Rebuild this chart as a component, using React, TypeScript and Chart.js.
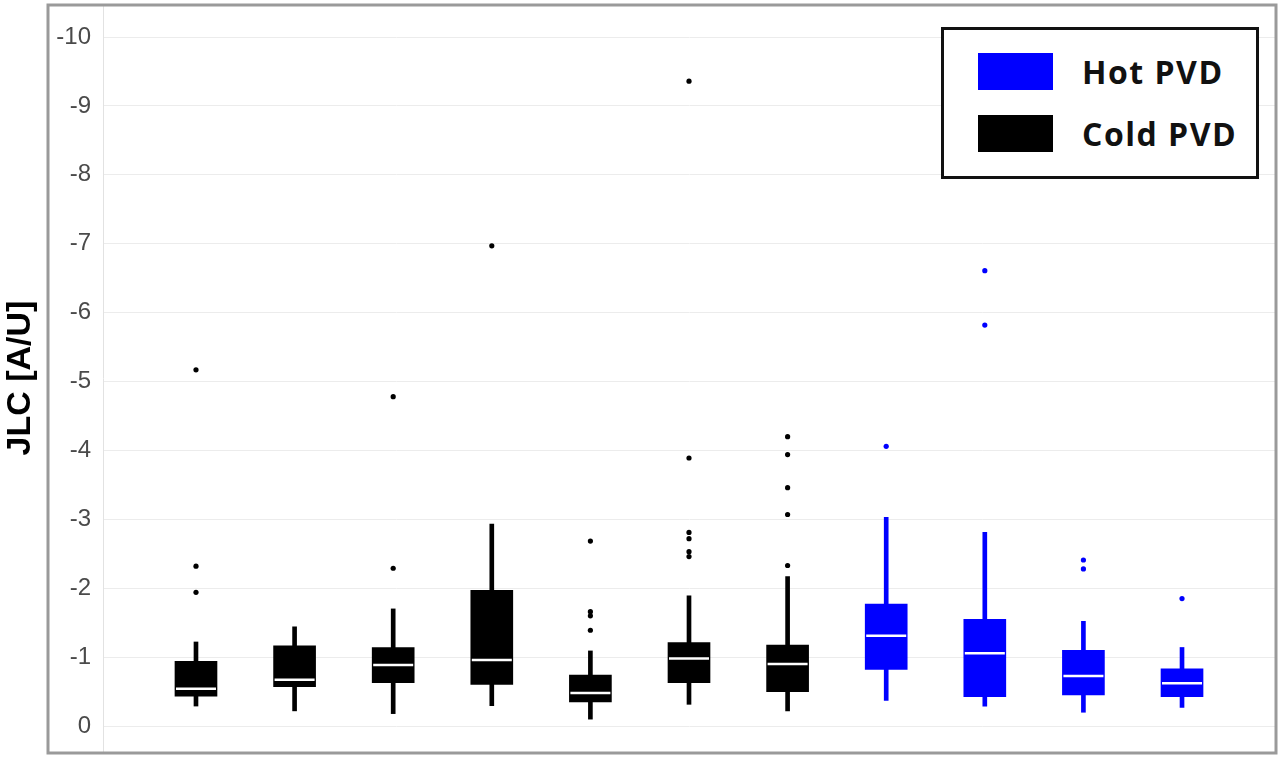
import React, { useEffect, useRef } from "react";
import { Chart, registerables } from "chart.js";

Chart.register(...registerables);

// Process type of each box (left to right)
const boxType = ["Cold PVD", "Cold PVD", "Cold PVD", "Cold PVD", "Cold PVD", "Cold PVD", "Cold PVD", "Hot PVD", "Hot PVD", "Hot PVD", "Hot PVD"];
// Whisker end nearest 0
const whiskerLow = [-0.29, -0.22, -0.18, -0.295, -0.1, -0.315, -0.22, -0.37, -0.29, -0.2, -0.27];
// Box edge nearest 0 (Q1 in magnitude)
const boxLow = [-0.435, -0.57, -0.63, -0.605, -0.35, -0.63, -0.5, -0.82, -0.425, -0.45, -0.425];
const medians = [-0.54, -0.67, -0.885, -0.96, -0.48, -0.98, -0.9, -1.31, -1.055, -0.725, -0.62];
// Box edge farthest from 0 (Q3 in magnitude)
const boxHigh = [-0.94, -1.165, -1.14, -1.97, -0.74, -1.21, -1.175, -1.77, -1.55, -1.1, -0.83];
const whiskerHigh = [-1.22, -1.44, -1.7, -2.93, -1.09, -1.89, -2.17, -3.03, -2.81, -1.52, -1.14];
const outliers = [
  [-1.94, -2.32, -5.17],
  [],
  [-2.29, -4.78],
  [-6.97],
  [-1.39, -1.6, -1.66, -2.685],
  [-2.46, -2.53, -2.72, -2.81, -3.89, -9.36],
  [-2.33, -3.07, -3.46, -3.94, -4.2],
  [-4.06],
  [-5.82, -6.61],
  [-2.28, -2.41],
  [-1.85],
];
const yTicks = [-10, -9, -8, -7, -6, -5, -4, -3, -2, -1, 0];
const legendItems = ["Hot PVD", "Cold PVD"];
const typeColor: Record<string, string> = { "Hot PVD": "#0000ff", "Cold PVD": "#000000" };

const framePlugin = {
  id: "frame",
  afterDraw(chart: any) {
    const { ctx, chartArea } = chart;
    ctx.save();
    ctx.strokeStyle = "#9a9a9a";
    ctx.lineWidth = 3;
    ctx.strokeRect(48, chartArea.top + 1, chartArea.right + 1 - 48, chartArea.bottom - chartArea.top);
    ctx.restore();
  },
};

export default function App() {
  const ref = useRef<HTMLCanvasElement>(null);

  useEffect(() => {
    const colors = boxType.map((t) => typeColor[t]);
    const pos = boxType.map((_, i) => i + 1);
    const outlierPts: { x: number; y: number }[] = [];
    const outlierColors: string[] = [];
    outliers.forEach((arr, i) =>
      arr.forEach((v) => {
        outlierPts.push({ x: pos[i], y: v });
        outlierColors.push(colors[i]);
      })
    );

    const chart = new Chart(ref.current!, {
      type: "bar",
      data: {
        datasets: [
          {
            type: "line",
            label: "outliers",
            data: outlierPts,
            showLine: false,
            pointRadius: 2.6,
            pointBorderWidth: 0,
            pointBackgroundColor: outlierColors,
            order: 0,
          } as any,
          {
            type: "line",
            label: "median",
            data: medians.map((v, i) => ({ x: pos[i], y: v })),
            showLine: false,
            pointStyle: "line",
            pointRadius: 20,
            pointBorderWidth: 2.5,
            pointBorderColor: "#ffffff",
            order: 1,
          } as any,
          {
            type: "bar",
            label: "box",
            data: boxLow.map((v, i) => ({ x: pos[i], y: [v, boxHigh[i]] })),
            backgroundColor: colors,
            barThickness: 42,
            grouped: false,
            order: 2,
          } as any,
          {
            type: "bar",
            label: "whisker",
            data: whiskerLow.map((v, i) => ({ x: pos[i], y: [v, whiskerHigh[i]] })),
            backgroundColor: colors,
            barThickness: 4,
            grouped: false,
            order: 3,
          } as any,
        ],
      },
      options: {
        animation: false,
        responsive: false,
        devicePixelRatio: 1,
        layout: { autoPadding: false, padding: { left: 0, top: 4, right: 5, bottom: 5 } },
        plugins: { legend: { display: false }, tooltip: { enabled: false } },
        scales: {
          x: { type: "linear", min: 0.057, max: 11.943, display: false, offset: false },
          y: {
            type: "linear",
            reverse: true,
            min: -10.48,
            max: 0.377,
            afterFit: (s: any) => {
              s.width = 103;
              s.paddingTop = 0;
              s.paddingBottom = 0;
            },
            afterBuildTicks: (s: any) => {
              s.ticks = yTicks.map((v) => ({ value: v }));
            },
            ticks: {
              padding: 12,
              color: "#4a4a4a",
              font: { family: "'Liberation Sans', Arial, sans-serif", size: 24 },
              callback: (v: any) => String(v),
            },
            grid: { color: "#ececec", drawTicks: false, lineWidth: 1 },
            border: { display: true, color: "#e2e2e2", width: 1 },
            title: {
              display: true,
              text: "JLC [A/U]",
              color: "#000",
              font: { family: "'Liberation Sans', Arial, sans-serif", size: 34, weight: "bold" },
              padding: { top: 0, bottom: 0 },
            },
          },
        },
      },
      plugins: [framePlugin],
    });
    return () => chart.destroy();
  }, []);

  const legendTop = [53, 115];
  return (
    <div style={{ position: "fixed", left: 0, top: 0, width: 1280, height: 757, background: "#fff" }}>
      <canvas ref={ref} width={1280} height={757} style={{ display: "block" }} />
      <div
        style={{
          position: "absolute",
          left: 941,
          top: 27,
          width: 312,
          height: 146,
          border: "3px solid #111",
          background: "#fff",
        }}
      />
      {legendItems.map((name, i) => (
        <React.Fragment key={name}>
          <div
            style={{
              position: "absolute",
              left: 978,
              top: legendTop[i],
              width: 75,
              height: 37,
              background: typeColor[name],
            }}
          />
          <div
            style={{
              position: "absolute",
              left: 1082,
              top: legendTop[i] + 3,
              fontFamily: "'Open Sans', sans-serif",
              fontWeight: 700,
              fontSize: 32,
              lineHeight: "32px",
              letterSpacing: "1.5px",
              color: "#111",
              whiteSpace: "nowrap",
            }}
          >
            {name}
          </div>
        </React.Fragment>
      ))}
    </div>
  );
}
